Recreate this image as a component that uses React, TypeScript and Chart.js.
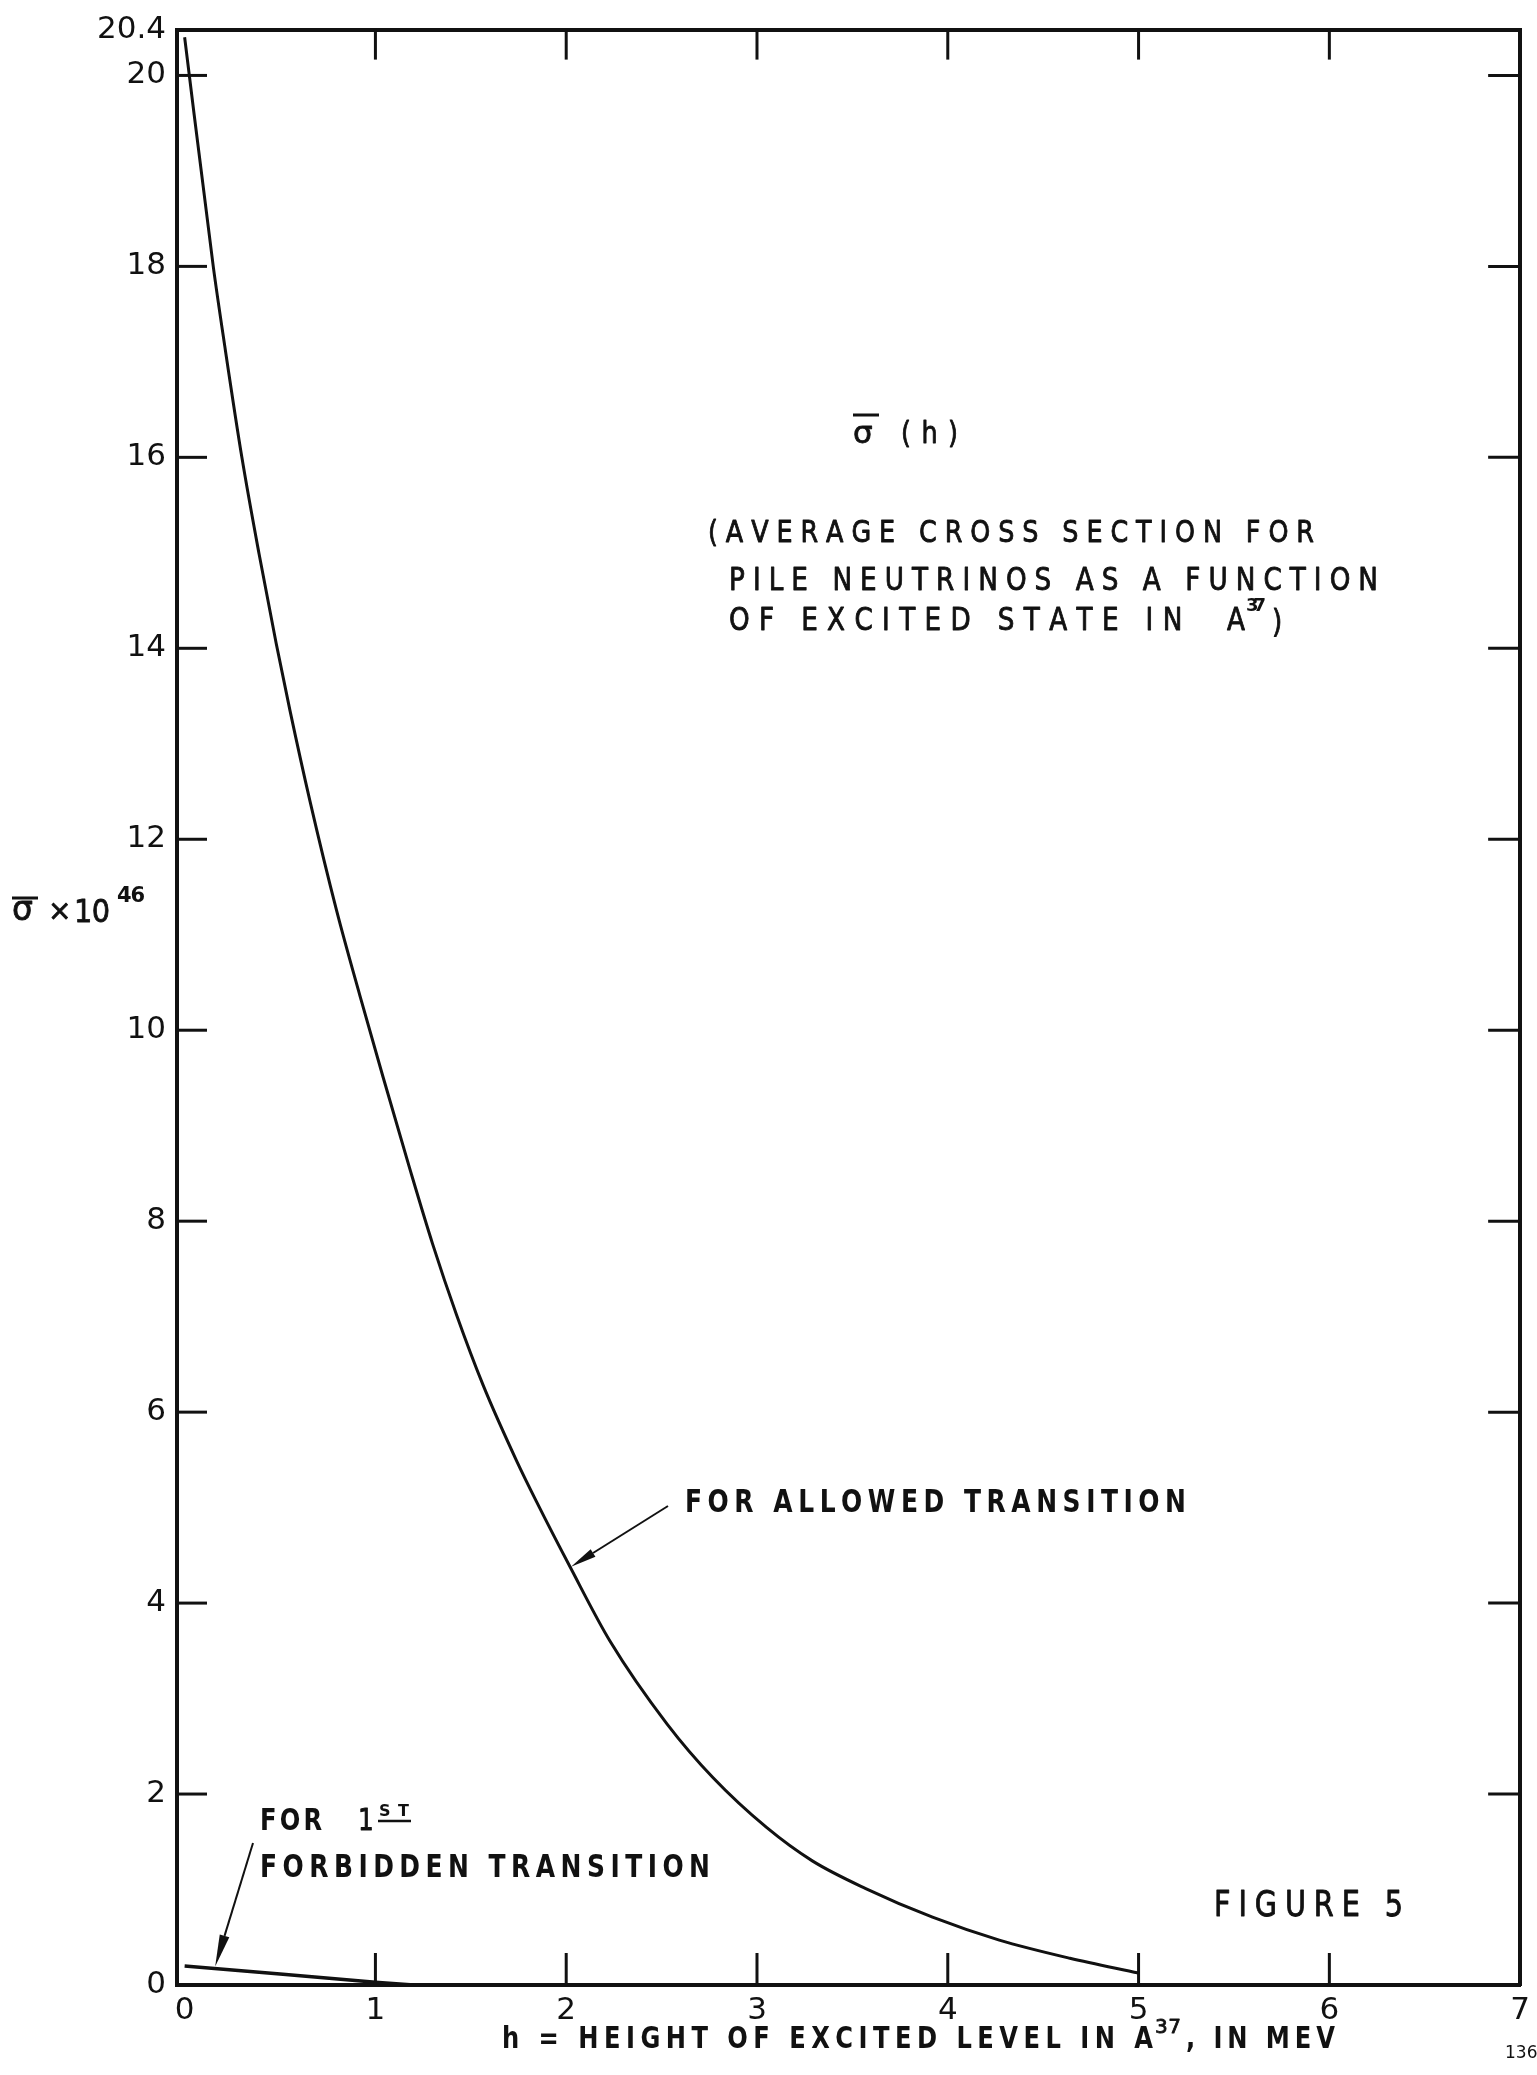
import React, { useEffect, useRef } from 'react';
import { Chart, registerables } from 'chart.js';

Chart.register(...registerables);

// ---- data ----
const allowedH = [0, 0.15, 0.21, 0.30, 0.39, 0.48, 0.552, 0.657, 0.797, 0.919, 1.04, 1.18, 1.30, 1.425, 1.565, 1.74, 1.845, 2.02, 2.23, 2.53, 2.77, 3.05, 3.29, 3.57, 3.92, 4.27, 4.64, 5.0];
const allowedSigma = [20.4, 18.0, 17.17, 16.0, 14.99, 14.05, 13.35, 12.4, 11.25, 10.36, 9.51, 8.55, 7.76, 7.02, 6.28, 5.49, 5.06, 4.38, 3.6, 2.73, 2.17, 1.65, 1.3, 1.01, 0.71, 0.47, 0.28, 0.125];

const forbiddenH = [0, 0.5, 1.0, 1.2];
const forbiddenSigma = [0.2, 0.115, 0.03, 0];

const xTickValues = [0, 1, 2, 3, 4, 5, 6, 7];
const yTickValues = [0, 2, 4, 6, 8, 10, 12, 14, 16, 18, 20];
const yTopLabel = '20.4';

const X_MIN = -0.04;
const X_MAX = 7;
const Y_MIN = 0;
const Y_MAX = 20.48;

const FONT = '"DejaVu Sans", sans-serif';
const INK = '#111';

function drawSpaced(
  ctx: CanvasRenderingContext2D,
  text: string,
  x0: number,
  x1: number,
  baseline: number,
  size: number,
  weight: string = 'normal',
  sx: number = 0.82,
  thicken: number = 0.9
) {
  ctx.font = `${weight} ${size}px ${FONT}`;
  const chars = Array.from(text);
  const widths = chars.map((c) => ctx.measureText(c).width * sx);
  const natural = widths.reduce((a, b) => a + b, 0);
  const gaps = chars.length - 1;
  const sp = gaps > 0 ? (x1 - x0 - natural) / gaps : 0;
  let x = x0;
  ctx.textAlign = 'left';
  ctx.textBaseline = 'alphabetic';
  chars.forEach((c, i) => {
    ctx.save();
    ctx.translate(x, baseline);
    ctx.scale(sx, 1);
    ctx.fillText(c, 0, 0);
    if (thicken > 0) {
      ctx.lineWidth = thicken;
      ctx.lineJoin = 'round';
      ctx.strokeText(c, 0, 0);
    }
    ctx.restore();
    x += widths[i] + sp;
  });
}

function line(ctx: CanvasRenderingContext2D, x1: number, y1: number, x2: number, y2: number) {
  ctx.beginPath();
  ctx.moveTo(x1, y1);
  ctx.lineTo(x2, y2);
  ctx.stroke();
}

function arrow(
  ctx: CanvasRenderingContext2D,
  fx: number,
  fy: number,
  tx: number,
  ty: number,
  headLen: number,
  headHalf: number
) {
  const ang = Math.atan2(ty - fy, tx - fx);
  const bx = tx - Math.cos(ang) * headLen;
  const by = ty - Math.sin(ang) * headLen;
  line(ctx, fx, fy, bx, by);
  ctx.beginPath();
  ctx.moveTo(tx, ty);
  ctx.lineTo(bx + Math.sin(ang) * headHalf, by - Math.cos(ang) * headHalf);
  ctx.lineTo(bx - Math.sin(ang) * headHalf, by + Math.cos(ang) * headHalf);
  ctx.closePath();
  ctx.fill();
}

function interp(xs: number[], ys: number[], x: number) {
  for (let i = 0; i < xs.length - 1; i++) {
    if (x >= xs[i] && x <= xs[i + 1]) {
      const t = (x - xs[i]) / (xs[i + 1] - xs[i]);
      return ys[i] + t * (ys[i + 1] - ys[i]);
    }
  }
  return ys[ys.length - 1];
}

const decor = {
  id: 'decor',
  afterDraw(chart: any) {
    const ctx: CanvasRenderingContext2D = chart.ctx;
    const { left, right, top, bottom } = chart.chartArea;
    const xs = chart.scales.x;
    const ys = chart.scales.y;
    ctx.save();
    ctx.strokeStyle = INK;
    ctx.fillStyle = INK;
    ctx.lineCap = 'butt';

    // inward tick marks on all four sides
    ctx.lineWidth = 3;
    yTickValues.forEach((v) => {
      if (v <= Y_MIN) return;
      const py = ys.getPixelForValue(v);
      line(ctx, left, py, left + 30, py);
      line(ctx, right - 32, py, right, py);
    });
    xTickValues.forEach((v) => {
      if (v <= 0 || v >= X_MAX) return;
      const px = xs.getPixelForValue(v);
      line(ctx, px, bottom, px, bottom - 32);
      line(ctx, px, top, px, top + 30);
    });

    // y-axis title  σ̄ ×10^46
    drawSpaced(ctx, 'σ', 12, 37, 920, 33, 'normal', 1, 0.8);
    ctx.lineWidth = 3;
    line(ctx, 12, 898, 38, 898);
    drawSpaced(ctx, '×', 48, 66, 920, 28, 'normal', 1, 0.8);
    drawSpaced(ctx, '10', 74, 110, 922, 32, 'normal', 0.9, 0.8);
    drawSpaced(ctx, '46', 117, 145, 902, 21, 'bold', 1, 0);

    // σ̄ (h)
    drawSpaced(ctx, 'σ', 853, 878, 443, 31, 'normal', 1, 0.8);
    ctx.lineWidth = 3;
    line(ctx, 853, 415, 879, 415);
    drawSpaced(ctx, '(h)', 901, 958, 443, 31);

    // description block
    drawSpaced(ctx, '(AVERAGE CROSS SECTION FOR', 708, 1314, 542, 31);
    drawSpaced(ctx, 'PILE NEUTRINOS AS A FUNCTION', 729, 1378, 590, 32);
    drawSpaced(ctx, 'OF EXCITED STATE IN  A', 729, 1245, 630, 32);
    drawSpaced(ctx, '37', 1246, 1266, 611, 18, 'bold', 1, 0);
    drawSpaced(ctx, ')', 1272, 1286, 632, 32);

    // allowed transition label + arrow
    drawSpaced(ctx, 'FOR ALLOWED TRANSITION', 685, 1186, 1512, 32, 'bold', 0.78, 0);
    const aH = 2.02;
    const aTipX = xs.getPixelForValue(aH);
    const aTipY = ys.getPixelForValue(interp(allowedH, allowedSigma, aH));
    ctx.lineWidth = 2;
    arrow(ctx, 668, 1506, aTipX + 1, aTipY, 26, 4.5);

    // forbidden transition label + arrow
    drawSpaced(ctx, 'FOR', 260, 322, 1830, 31, 'bold', 0.78, 0);
    drawSpaced(ctx, '1', 358, 358, 1830, 31, 'normal', 0.8);
    drawSpaced(ctx, 'ST', 379, 409, 1816, 16, 'bold', 1, 0);
    ctx.lineWidth = 2.5;
    line(ctx, 378, 1821, 411, 1821);
    drawSpaced(ctx, 'FORBIDDEN TRANSITION', 260, 710, 1877, 32, 'bold', 0.78, 0);
    const fH = 0.16;
    const fTipX = xs.getPixelForValue(fH);
    const fTipY = ys.getPixelForValue(interp(forbiddenH, forbiddenSigma, fH));
    ctx.lineWidth = 2;
    arrow(ctx, 253, 1843, fTipX, fTipY - 2, 32, 5);

    // FIGURE 5
    drawSpaced(ctx, 'FIGURE 5', 1214, 1403, 1916, 35);

    // x-axis title
    drawSpaced(ctx, 'h = HEIGHT OF EXCITED LEVEL IN A', 502, 1153, 2048, 31, 'bold', 0.78, 0);
    drawSpaced(ctx, '37', 1155, 1181, 2033, 20, 'normal', 1, 0.8);
    drawSpaced(ctx, ', IN MEV', 1186, 1335, 2048, 31, 'bold', 0.78, 0);

    // page number (cut off at the edge)
    ctx.font = `normal 17px ${FONT}`;
    ctx.fillText('136', 1505, 2058);

    ctx.restore();
  },
};

export default function App() {
  const ref = useRef<HTMLCanvasElement>(null);

  useEffect(() => {
    if (!ref.current) return;
    const borderOpts = { display: true, color: INK, width: 4 };
    const chart = new Chart(ref.current, {
      type: 'line',
      data: {
        datasets: [
          {
            label: 'For allowed transition',
            data: allowedH.map((h, i) => ({ x: h, y: allowedSigma[i] })),
            borderColor: INK,
            borderWidth: 3,
            pointRadius: 0,
            fill: false,
            cubicInterpolationMode: 'monotone',
          },
          {
            label: 'For 1st forbidden transition',
            data: forbiddenH.map((h, i) => ({ x: h, y: forbiddenSigma[i] })),
            borderColor: INK,
            borderWidth: 3.5,
            pointRadius: 0,
            fill: false,
            tension: 0,
          },
        ],
      },
      options: {
        animation: false,
        responsive: false,
        devicePixelRatio: 1,
        events: [],
        layout: { padding: { top: 22, right: 16, left: 0, bottom: 0 } },
        plugins: {
          legend: { display: false },
          tooltip: { enabled: false },
          title: { display: false },
        },
        scales: {
          x: {
            type: 'linear',
            position: 'bottom',
            min: X_MIN,
            max: X_MAX,
            afterBuildTicks: (s: any) => {
              s.ticks = xTickValues.map((v) => ({ value: v }));
            },
            afterFit: (s: any) => {
              s.height = 90;
            },
            grid: { display: false, drawTicks: false },
            border: borderOpts,
            ticks: {
              color: INK,
              font: { family: FONT, size: 31 },
              padding: 7,
              autoSkip: false,
              maxRotation: 0,
              callback: (v: any) => String(v),
            },
          },
          y: {
            type: 'linear',
            position: 'left',
            min: Y_MIN,
            max: Y_MAX,
            afterBuildTicks: (s: any) => {
              s.ticks = [...yTickValues, Y_MAX].map((v) => ({ value: v }));
            },
            afterFit: (s: any) => {
              s.width = 177;
            },
            grid: { display: false, drawTicks: false },
            border: borderOpts,
            ticks: {
              color: INK,
              font: { family: FONT, size: 31 },
              padding: 11,
              autoSkip: false,
              callback: (v: any) => (v === Y_MAX ? yTopLabel : String(v)),
            },
          },
          xTop: {
            type: 'linear',
            position: 'top',
            min: X_MIN,
            max: X_MAX,
            afterFit: (s: any) => {
              s.height = 0;
            },
            grid: { display: false, drawTicks: false },
            border: borderOpts,
            ticks: { display: false },
          },
          yRight: {
            type: 'linear',
            position: 'right',
            min: Y_MIN,
            max: Y_MAX,
            afterFit: (s: any) => {
              s.width = 0;
            },
            grid: { display: false, drawTicks: false },
            border: borderOpts,
            ticks: { display: false },
          },
        },
      } as any,
      plugins: [decor],
    });
    return () => chart.destroy();
  }, []);

  return (
    <div style={{ position: 'absolute', left: 0, top: 0, width: 1537, height: 2075, background: '#fff' }}>
      <canvas ref={ref} width={1537} height={2075} style={{ display: 'block', width: 1537, height: 2075 }} />
    </div>
  );
}
